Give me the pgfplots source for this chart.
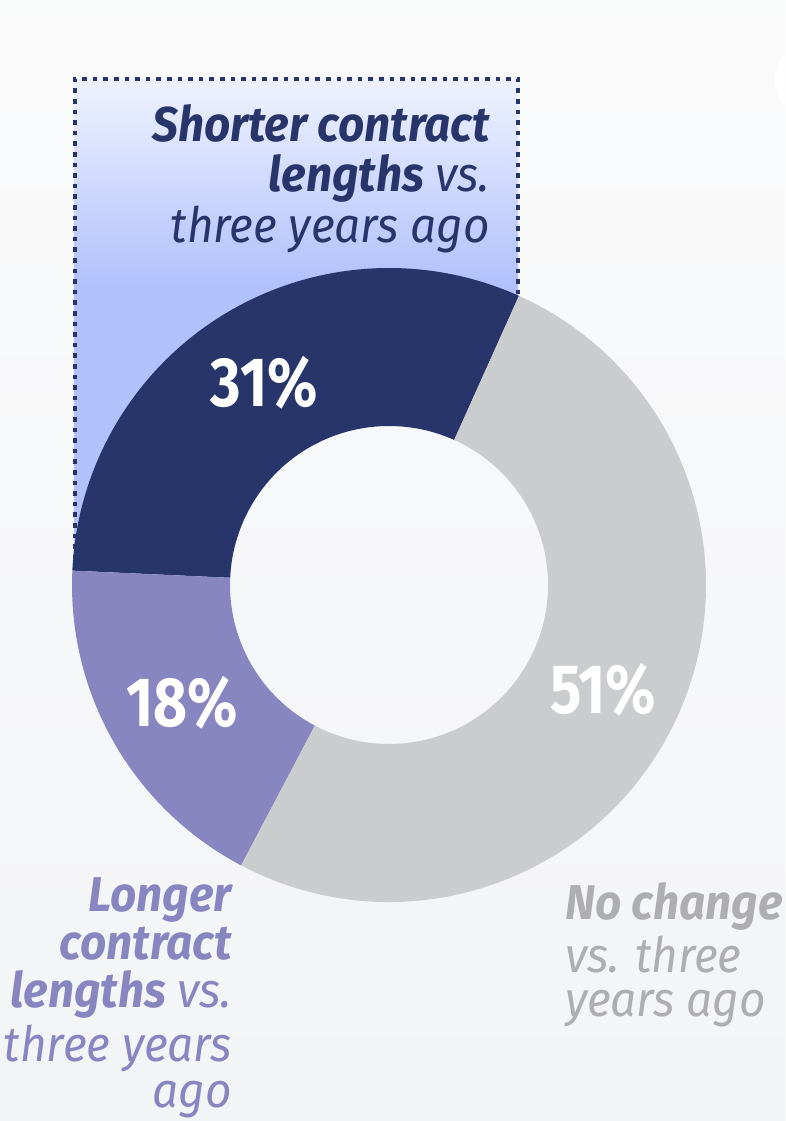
\documentclass[border=0pt]{standalone}
\usepackage{pgfplots}
\pgfplotsset{compat=1.18}
\usepackage{pgfplotstable}
\usetikzlibrary{calc}
\usepackage{fontspec}
\setmainfont{Fira Sans}
\newfontfamily\lblfont[FakeStretch=0.94]{Fira Sans}
\newfontfamily\pctfont[FakeStretch=0.84]{Fira Sans}

\definecolor{navy}{HTML}{28356A}
\definecolor{lav}{HTML}{8886C0}
\definecolor{grayslice}{HTML}{CBCCCE}
\definecolor{graytext}{HTML}{AEAEB0}
\definecolor{bg}{HTML}{F3F4F6}
\definecolor{hl}{HTML}{B0C1FC}

% shares in percent
\def\vShort{31}
\def\vLong{18}
\def\vSame{51}

\begin{document}
\begin{tikzpicture}
% angles from the shares
\pgfmathsetmacro\aS{65.8}
\pgfmathsetmacro\aA{\aS+3.6*\vShort}
\pgfmathsetmacro\aB{\aA+3.6*\vLong}
\pgfmathsetmacro\aC{\aB+3.6*\vSame}
\pgfmathsetmacro\mA{(\aS+\aA)/2}
\pgfmathsetmacro\mB{(\aA+\aB)/2}
\pgfmathsetmacro\mC{(\aB+\aC)/2}
\begin{axis}[
    width=785bp, height=1121bp, scale only axis,
    xmin=0, xmax=785, ymin=0, ymax=1121,
    hide axis, clip=false
]
    % background
    \shade[top color=white!60!bg, bottom color=bg]
        (axis cs:0,0) rectangle (axis cs:785,1121);
    \begin{scope}
        \clip (axis cs:0,0) rectangle (axis cs:785,1121);
        \fill[white] (axis cs:815,1041) circle[radius=40bp];
    \end{scope}

    % highlight box behind the navy slice (kept out of the donut)
    \begin{scope}[even odd rule]
        \clip (axis cs:0,0) rectangle (axis cs:785,1121)
            (axis cs:389,536) circle[radius=316bp];
        \shade[top color=white!80!hl, bottom color=hl]
            (axis cs:74,1042) rectangle (axis cs:518,836);
        \fill[hl] (axis cs:74,836.5) rectangle (axis cs:518,551);
    \end{scope}
    \draw[navy, line width=4.6bp, dash pattern=on 4.6bp off 6bp]
        (axis cs:75,551) -- (axis cs:75,1042) -- (axis cs:518,1042) -- (axis cs:518,826);

    % donut slices
    \fill[navy] ($(axis cs:389,536)+(\aS:317bp)$) arc[start angle=\aS, end angle=\aA, radius=317bp]
        -- ($(axis cs:389,536)+(\aA:159bp)$) arc[start angle=\aA, end angle=\aS, radius=159bp] -- cycle;
    \fill[lav] ($(axis cs:389,536)+(\aA:317bp)$) arc[start angle=\aA, end angle=\aB, radius=317bp]
        -- ($(axis cs:389,536)+(\aB:159bp)$) arc[start angle=\aB, end angle=\aA, radius=159bp] -- cycle;
    \fill[grayslice] ($(axis cs:389,536)+(\aB:317bp)$) arc[start angle=\aB, end angle=\aC, radius=317bp]
        -- ($(axis cs:389,536)+(\aC:159bp)$) arc[start angle=\aC, end angle=\aB, radius=159bp] -- cycle;

    % value labels
    \tikzset{pct/.style={white, font=\pctfont\bfseries\fontsize{70}{74}\selectfont}}
    \node[pct] at ($(axis cs:389,536)+(\mA:238bp)$) {\vShort\%};
    \node[pct] at ($(axis cs:389,536)+(\mB:238bp)$) {\vLong\%};
    \node[pct] at ($(axis cs:389,536)+(\mC:238bp)$) {\vSame\%};

    % category labels
    \tikzset{lbl/.style={inner sep=0pt, font=\lblfont\itshape\fontsize{49}{52}\selectfont}}
    \node[lbl, navy, anchor=base east] at (axis cs:490,979) {\bfseries Shorter contract};
    \node[lbl, navy, anchor=base east] at (axis cs:490,929) {{\bfseries lengths} vs.};
    \node[lbl, navy, anchor=base east] at (axis cs:490,878) {three years ago};

    \node[lbl, lav, anchor=base east] at (axis cs:232,209) {\bfseries Longer};
    \node[lbl, lav, anchor=base east] at (axis cs:232,161) {\bfseries contract};
    \node[lbl, lav, anchor=base east] at (axis cs:232,113) {{\bfseries lengths} vs.};
    \node[lbl, lav, anchor=base east] at (axis cs:232,59) {three years};
    \node[lbl, lav, anchor=base east] at (axis cs:232,13) {ago};

    \node[lbl, graytext, anchor=base west] at (axis cs:565,201) {\bfseries No change};
    \node[lbl, graytext, anchor=base west] at (axis cs:565,148) {vs. three};
    \node[lbl, graytext, anchor=base west] at (axis cs:565,104) {years ago};
\end{axis}
\end{tikzpicture}
\end{document}
